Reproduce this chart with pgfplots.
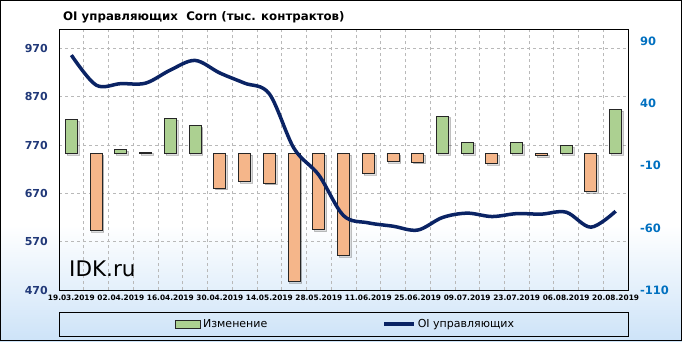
\documentclass[border=0pt]{standalone}
\usepackage{pgfplots}
\pgfplotsset{compat=1.18}
\usepackage{fontspec}
\setmainfont{DejaVu Sans}
\usetikzlibrary{shadows}
\definecolor{navy}{RGB}{10,35,100}
\definecolor{lblue}{RGB}{32,56,120}
\definecolor{rblue}{RGB}{0,112,192}
\definecolor{bgblue}{RGB}{205,227,248}
\definecolor{gfill}{RGB}{172,208,145}
\definecolor{ofill}{RGB}{245,182,138}
\definecolor{gridc}{RGB}{185,185,185}
\begin{document}
\begin{tikzpicture}
\useasboundingbox (-59pt,-51pt) rectangle (623pt,290pt);
\fill[white] (-59pt,-51pt) rectangle (623pt,290pt);
\shade[top color=white, bottom color=bgblue] (-59pt,-51pt) rectangle (623pt,65pt);
\draw[black, line width=0.8pt] (0pt,-22pt) rectangle (569pt,-46pt);
\begin{axis}[
  at={(0pt,0pt)}, anchor=south west,
  width=569pt, height=261pt, scale only axis,
  xmin=-0.5, xmax=22.5, ymin=-110, ymax=100,
  ytick={-110,-60,-10,40,90},
  yticklabel pos=right,
  /pgf/number format/assume math mode=true,
  extra y ticks={84.444,45.556,6.667,-32.222,-71.111},
  extra y tick labels={},
  extra y tick style={grid=major},
  major grid style={gridc, line width=0.6pt, dash pattern=on 3pt off 3pt},
  minor grid style={gridc, line width=0.6pt, dash pattern=on 3pt off 3pt},
  xtick={0,2,...,22},
  xticklabels={19.03.2019,02.04.2019,16.04.2019,30.04.2019,14.05.2019,28.05.2019,11.06.2019,25.06.2019,09.07.2019,23.07.2019,06.08.2019,20.08.2019},
  minor xtick={0.5,1.5,...,21.5},
  xminorgrids=true,
  major tick length=0pt, minor tick length=0pt,
  axis line style={black, line width=0.8pt},
  xticklabel style={font=\bfseries\fontsize{7.4}{8}\selectfont, inner sep=0pt, anchor=base, yshift=-10.5pt},
  yticklabel style={font=\bfseries\fontsize{11.5}{12}\selectfont, text=rblue, inner sep=0pt, anchor=west, xshift=12pt},
]
\addplot[ybar, bar width=12pt, bar shift=0pt, draw=black!85, line width=0.9pt, fill=gfill,
  drop shadow={shadow xshift=1.8pt, shadow yshift=-1.8pt, opacity=0.25}]
  coordinates {(0,27) (2,3) (3,1) (4,28) (5,22) (15,30) (16,9) (18,8.5) (20,6) (22,35.5)};
\addplot[ybar, bar width=12pt, bar shift=0pt, draw=black!85, line width=0.9pt, fill=ofill,
  drop shadow={shadow xshift=1.8pt, shadow yshift=-1.8pt, opacity=0.25}]
  coordinates {(1,-62) (6,-28) (7,-22.5) (8,-24) (9,-103) (10,-61.5) (11,-82) (12,-16) (13,-6.5) (14,-7) (17,-8) (19,-2) (21,-31)};
\end{axis}
\begin{axis}[
  at={(0pt,0pt)}, anchor=south west,
  width=569pt, height=261pt, scale only axis,
  xmin=-0.5, xmax=22.5, ymin=470, ymax=1010,
  ytick={470,570,...,970},
  hide x axis,
  axis y line*=left,
  /pgf/number format/assume math mode=true,
  major tick length=0pt,
  axis line style={black, line width=0.8pt},
  yticklabel style={font=\bfseries\fontsize{11}{12}\selectfont, text=lblue, inner sep=0pt, anchor=east, xshift=-11pt},
  legend style={draw=none, fill=none, font=\fontsize{11}{13}\selectfont,
    at={(0.2039,-0.1303)}, anchor=west, inner sep=0pt,
    /tikz/every even column/.append style={column sep=113pt}},
  legend columns=2,
  legend cell align=left,
]
\addlegendimage{legend image code/.code={\draw[draw=black!85, line width=0.9pt, fill=gfill] (0pt,-4pt) rectangle (25pt,4pt);}}
\addlegendentry{Изменение}
\addplot[navy, line width=3.5pt, smooth, tension=0.55,
  legend image code/.code={\draw[navy, line width=3.5pt] (0pt,0pt) -- (30pt,0pt);}]
  coordinates {(0,956) (1,894) (2,897) (3,898) (4,925) (5,945) (6,919) (7,898) (8,876) (9,763) (10,708) (11,624) (12,609) (13,602) (14,594) (15,620) (16,629) (17,622) (18,628) (19,627) (20,631) (21,600) (22,633)};
\addlegendentry{OI управляющих}
\end{axis}
\node[anchor=base west, inner sep=0pt, font=\bfseries\fontsize{11.8}{13}\selectfont] at (4pt,269.3pt) {OI управляющих\ \ Corn (тыс. контрактов)};
\node[anchor=base west, inner sep=0pt, font=\fontsize{21.5}{24}\selectfont] at (10pt,14pt) {IDK.ru};
\draw[black, line width=1pt] (-58.5pt,-50.5pt) rectangle (622.5pt,289.5pt);
\end{tikzpicture}
\end{document}
